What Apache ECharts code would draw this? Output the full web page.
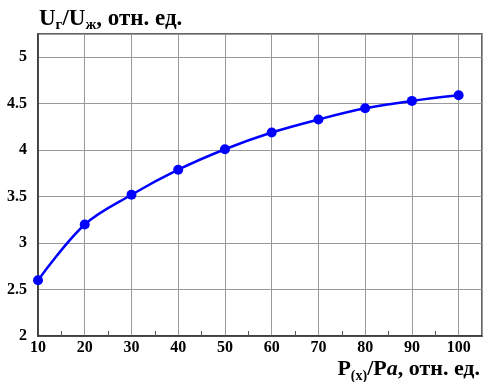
<!DOCTYPE html>
<html><head><meta charset="utf-8">
<script src="https://cdn.jsdelivr.net/npm/echarts@6/dist/echarts.min.js"></script>
<style>html,body{margin:0;padding:0;background:#fff}#c{width:487px;height:382px}</style>
</head><body><div id="c"></div>
<script>
const xValues = [10, 20, 30, 40, 50, 60, 70, 80, 90, 100];
const yValues = [2.6, 3.2, 3.52, 3.79, 4.01, 4.19, 4.33, 4.45, 4.53, 4.59];
const F = 'Liberation Serif, Times New Roman, serif';
const chart = echarts.init(document.getElementById('c'));
chart.setOption({
  animation: false,
  title: [{
    left: 34, top: 2,
    text: '{b|U}{s|г}{b|/U}{s|ж}{b|, отн. ед.}',
    textStyle: { rich: {
      b: { fontFamily: F, fontSize: 23, fontWeight: 'bold', color: '#000', lineHeight: 26, verticalAlign: 'bottom', padding:[0,0,2,0] },
      s: { fontFamily: F, fontSize: 15, fontWeight: 'bold', color: '#000', lineHeight: 14, verticalAlign: 'bottom' }
    } }
  }, {
    right: 2, top: 352,
    text: '{b|P}{s|(x)}{b|/P}{i|a}{b|, отн. ед.}',
    textStyle: { rich: {
      b: { fontFamily: F, fontSize: 22, fontWeight: 'bold', color: '#000', lineHeight: 26, verticalAlign: 'bottom', padding:[0,0,3,0] },
      i: { fontFamily: F, fontSize: 22, fontWeight: 'bold', fontStyle: 'italic', color: '#000', lineHeight: 26, verticalAlign: 'bottom', padding:[0,0,3,0] },
      s: { fontFamily: F, fontSize: 14, fontWeight: 'bold', color: '#000', lineHeight: 14, verticalAlign: 'bottom' }
    } }
  }],
  grid: { left: 38, right: 5, top: 34, bottom: 46, show: true, borderColor: '#333', borderWidth: 1.5 },
  xAxis: {
    type: 'value', min: 10, max: 105, interval: 10,
    axisLine: { show: true, lineStyle: { color: '#333', width: 1.5 } },
    axisTick: { show: false },
    minorTick: { show: true, splitNumber: 2, length: -5, lineStyle: { color: '#555', width: 1 } },
    splitLine: { show: true, lineStyle: { color: '#999', width: 1 } },
    axisLabel: { showMaxLabel: false, fontFamily: F, fontSize: 16, fontWeight: 'bold', color: '#000', margin: 4,
      formatter: v => v > 100 ? '' : v }
  },
  yAxis: {
    type: 'value', min: 2, max: 5.25, interval: 0.5,
    axisLine: { show: true, lineStyle: { color: '#333', width: 1.5 } },
    axisTick: { show: false },
    splitLine: { show: true, lineStyle: { color: '#999', width: 1 } },
    axisLabel: { showMaxLabel: false, fontFamily: F, fontSize: 16, fontWeight: 'bold', color: '#000', margin: 11,
      formatter: v => v > 5 ? '' : String(v) }
  },
  series: [{
    type: 'line', smooth: 0.35,
    data: xValues.map((x, i) => [x, yValues[i]]),
    symbol: 'circle', symbolSize: 10,
    lineStyle: { color: '#0000ff', width: 2.5 },
    itemStyle: { color: '#0000ff' }
  }]
});
</script></body></html>
